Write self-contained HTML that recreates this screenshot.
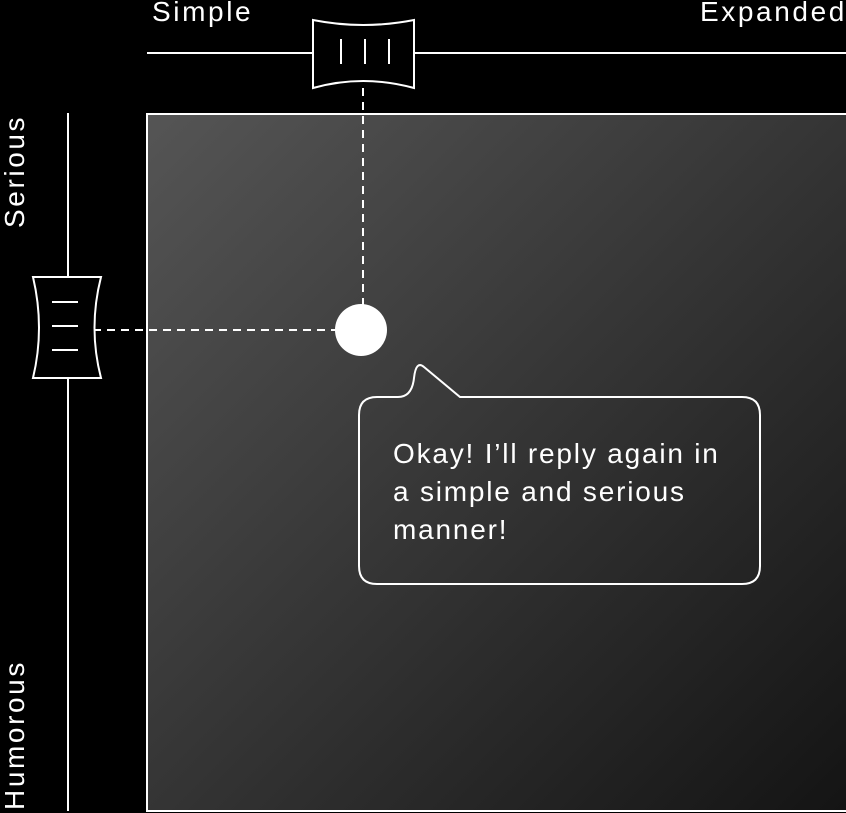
<!DOCTYPE html>
<html><head><style>
html,body{margin:0;padding:0;background:#000;}
body{width:846px;height:813px;position:relative;overflow:hidden;font-family:"Liberation Sans",sans-serif;color:#fff;}
.t{position:absolute;font-size:28px;letter-spacing:2.6px;white-space:nowrap;}
</style></head><body>
<svg width="846" height="813" style="position:absolute;left:0;top:0">
<defs><linearGradient id="g" x1="0" y1="0" x2="1" y2="1"><stop offset="0" stop-color="#555"/><stop offset="1" stop-color="#141414"/></linearGradient></defs>
<rect x="147" y="114" width="700" height="697" fill="url(#g)" stroke="#fff" stroke-width="2"/>
<line x1="147" y1="53" x2="846" y2="53" stroke="#fff" stroke-width="2"/>
<line x1="68" y1="113" x2="68" y2="811" stroke="#fff" stroke-width="2"/>
<line x1="363" y1="88" x2="363" y2="305" stroke="#fff" stroke-width="2" stroke-dasharray="8,6"/>
<line x1="93" y1="330" x2="336" y2="330" stroke="#fff" stroke-width="2" stroke-dasharray="8,6"/>
<path d="M313,20 Q363,30 414,20 L414,88 Q363,74 313,88 Z" fill="#000" stroke="#fff" stroke-width="2"/>
<g stroke="#fff" stroke-width="2"><line x1="341" y1="39" x2="341" y2="64"/><line x1="365" y1="39" x2="365" y2="64"/><line x1="389" y1="39" x2="389" y2="64"/></g>
<path d="M33,277 L101,277 Q88,328 101,378 L33,378 Q45,328 33,277 Z" fill="#000" stroke="#fff" stroke-width="2"/>
<g stroke="#fff" stroke-width="2"><line x1="52" y1="302" x2="78" y2="302"/><line x1="52" y1="326" x2="78" y2="326"/><line x1="52" y1="350" x2="78" y2="350"/></g>
<circle cx="361" cy="330" r="26" fill="#fff"/>
<path d="M359,415 Q359,397 377,397 L398,397 Q412,397 414,378 Q416,360 424,367 L460,397 L742,397 Q760,397 760,415 L760,566 Q760,584 742,584 L377,584 Q359,584 359,566 Z" fill="none" stroke="#fff" stroke-width="2"/>
</svg>
<div class="t" style="left:152px;top:-4px">Simple</div>
<div class="t" style="left:700px;top:-4px">Expanded</div>
<div class="t" style="left:-1px;top:228px;transform-origin:0 0;transform:rotate(-90deg)">Serious</div>
<div class="t" style="left:-1px;top:810px;transform-origin:0 0;transform:rotate(-90deg)">Humorous</div>
<div class="t" style="left:393px;top:435px;line-height:38px;letter-spacing:1.8px">Okay! I’ll reply again in<br>a simple and serious<br>manner!</div>
</body></html>
